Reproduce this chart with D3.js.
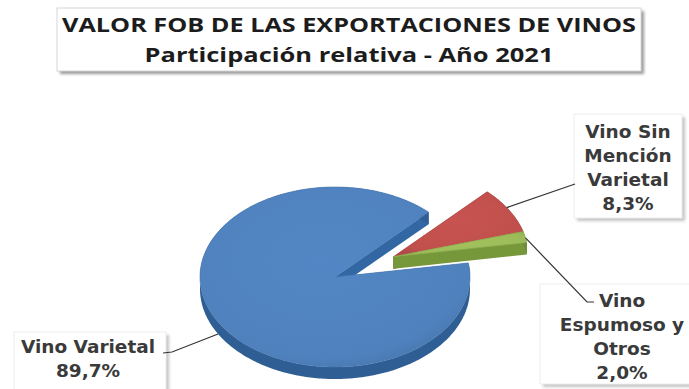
<!DOCTYPE html>
<html>
<head>
<meta charset="utf-8">
<script src="https://cdn.jsdelivr.net/npm/d3@7"></script>
<style>
  body { margin: 0; background: #fff; }
  svg { display: block; }
</style>
</head>
<body>
<div class="Canvas"></div>
<script>
// data
const titleLines = ['VALOR FOB DE LAS EXPORTACIONES DE VINOS', 'Participación relativa - Año 2021'];
const categories = ['Vino Varietal', 'Vino Sin Mención Varietal', 'Vino Espumoso y Otros'];
const shares = [89.7, 8.3, 2.0];
const labelLines = [['Vino Varietal'], ['Vino Sin', 'Mención', 'Varietal'], ['Vino', 'Espumoso y', 'Otros']];

const width = 689;
const height = 389;

// 3d pie geometry
const cx = 335, cy = 277;
const rx = 135, ry = 90;
const k = ry / rx;
const depth = 12;
const explode = [0, 66, 66]; // red and green pulled out together
const startDeg = 81;

const topColors = ['#4f81bd', '#c0504d', '#9bbb59'];
const sideColors = ['#2f5e95', '#8c3431', '#6d8a36'];

const svg = d3.select('.Canvas').append('svg').attr('width', width).attr('height', height);
const defs = svg.append('defs');

const shadow = defs.append('filter').attr('id', 'shadow').attr('x', '-10%').attr('y', '-10%').attr('width', '130%').attr('height', '140%');
shadow.append('feGaussianBlur').attr('stdDeviation', 1.6);

topColors.forEach((c, i) => {
    let g = defs.append('radialGradient').attr('id', `top${i}`).attr('cx', '45%').attr('cy', '40%').attr('r', '65%');
    g.append('stop').attr('offset', '0%').attr('stop-color', d3.color(c).brighter(0.12));
    g.append('stop').attr('offset', '85%').attr('stop-color', c);
    g.append('stop').attr('offset', '100%').attr('stop-color', d3.color(c).darker(0.25));
});

// title box
const title = svg.append('g');
title.append('rect').attr('x', 60).attr('y', 11).attr('width', 584).attr('height', 63)
    .attr('fill', '#9a9a9a').attr('filter', 'url(#shadow)');
title.append('rect').attr('x', 57).attr('y', 8).attr('width', 584).attr('height', 63)
    .attr('fill', '#fff').attr('stroke', '#d6d6d6').attr('stroke-width', 1);
const titleWidths = [574, 409];
title.selectAll('text.title')
    .data(titleLines)
    .enter()
    .append('text')
    .attr('class', 'title')
    .attr('x', 349)
    .attr('y', (d, i) => 32 + i * 30)
    .attr('text-anchor', 'middle')
    .attr('font-family', 'Open Sans, sans-serif')
    .attr('font-weight', 'bold')
    .attr('font-size', '20px')
    .attr('fill', '#1c1c1c')
    .attr('textLength', (d, i) => titleWidths[i])
    .attr('lengthAdjust', 'spacingAndGlyphs')
    .text((d) => d);

// pie layout: d3 angles are clockwise from 12 o'clock
const pie = d3.pie().sort(null).startAngle(startDeg * Math.PI / 180).endAngle(startDeg * Math.PI / 180 + 2 * Math.PI);
const arcs = pie(shares);

arcs.forEach((a) => {
    a.t0 = Math.PI / 2 - a.endAngle;
    a.t1 = Math.PI / 2 - a.startAngle;
});
// exploded slices share one direction: the middle of the group
const groupMid = (arcs[2].t0 + arcs[1].t1) / 2;
arcs.forEach((a, i) => {
    a.ox = explode[i] * Math.cos(groupMid);
    a.oy = -k * explode[i] * Math.sin(groupMid);
});

function pt(a, t, r, dz) {
    return [cx + a.ox + r * Math.cos(t), cy + a.oy - k * r * Math.sin(t) + (dz || 0)];
}
function arcPoints(a, dz) {
    let n = Math.max(8, Math.ceil((a.t1 - a.t0) * 60));
    return d3.range(n + 1).map((j) => pt(a, a.t0 + (a.t1 - a.t0) * j / n, rx, dz));
}
const line = d3.line();

const pieG = svg.append('g');
arcs.forEach((a, i) => {
    let g = pieG.append('g').attr('class', 'slice');
    let side = sideColors[i];
    // radial walls
    [a.t0, a.t1].forEach((t) => {
        let c = pt(a, t, 0), o = pt(a, t, rx);
        g.append('path')
            .attr('d', line([c, o, [o[0], o[1] + depth], [c[0], c[1] + depth]]) + 'Z')
            .attr('fill', d3.color(side).brighter(0.25));
    });
    // outer wall
    let topArc = arcPoints(a, 0);
    let botArc = arcPoints(a, depth).reverse();
    g.append('path')
        .attr('d', line(topArc.concat(botArc)) + 'Z')
        .attr('fill', side);
    // top face
    g.append('path')
        .attr('d', line([pt(a, a.t0, 0)].concat(topArc)) + 'Z')
        .attr('fill', `url(#top${i})`)
        .attr('stroke', d3.color(topColors[i]).darker(0.2))
        .attr('stroke-width', 0.6);
});

// labels
const fmt = (v) => d3.format('.1f')(v).replace('.', ',') + '%';
const labelBoxes = [
    { x: 14, y: 332, w: 152, h: 58, cx: 88, y0: 353 },
    { x: 574, y: 114, w: 108, h: 104, cx: 628, y0: 138 },
    { x: 540, y: 284, w: 150, h: 100, cx: 622, y0: 307 },
];
const lineGap = 24;
// leader lines: angle on slice (deg), end points near the label
const leaderAngle = [210, 33, 12];
const leaderDz = [depth, 0, 0];
const leaderEnd = [[[172, 352], [163, 353]], [[575, 184]], [[587, 302], [594, 302]]];

const labelG = svg.append('g');
arcs.forEach((a, i) => {
    let b = labelBoxes[i];
    let g = labelG.append('g');
    g.append('rect').attr('x', b.x + 3).attr('y', b.y + 3).attr('width', b.w).attr('height', b.h)
        .attr('fill', '#c4c4c4').attr('filter', 'url(#shadow)');
    g.append('rect').attr('x', b.x).attr('y', b.y).attr('width', b.w).attr('height', b.h)
        .attr('fill', '#fff').attr('stroke', '#ededed');
    let lines = labelLines[i].concat([fmt(shares[i])]);
    g.selectAll('text')
        .data(lines)
        .enter()
        .append('text')
        .attr('x', b.cx)
        .attr('y', (d, j) => b.y0 + j * lineGap)
        .attr('text-anchor', 'middle')
        .attr('font-family', 'DejaVu Sans, sans-serif')
        .attr('font-weight', 'bold')
        .attr('font-size', '18.5px')
        .attr('fill', '#3a3a3a')
        .text((d) => d);
    let start = pt(a, leaderAngle[i] * Math.PI / 180, rx, leaderDz[i]);
    svg.append('path')
        .attr('d', line([start].concat(leaderEnd[i])))
        .attr('fill', 'none')
        .attr('stroke', '#333')
        .attr('stroke-width', 1.2);
});
</script>
</body>
</html>
